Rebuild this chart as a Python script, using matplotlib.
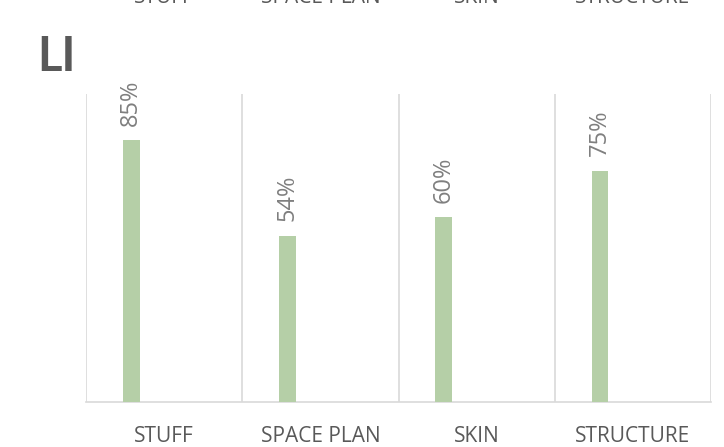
import numpy as np
import matplotlib.pyplot as plt

categories = ['STUFF', 'SPACE PLAN', 'SKIN', 'STRUCTURE']
values = [0.85, 0.54, 0.60, 0.75]
value_labels = ['85%', '54%', '60%', '75%']
title = 'LI'

plt.rcParams['font.family'] = ['Open Sans', 'DejaVu Sans']

fig = plt.figure(figsize=(7.24, 4.47), dpi=100)
ax = fig.add_axes([86/724, 45/447, 625/724, 308/447])

x = np.arange(len(categories))
bar_x = x - 0.21
ax.bar(bar_x, values, width=0.107, color='#b5cfa7', zorder=3)

for bx, v, lab in zip(bar_x, values, value_labels):
    ax.annotate(lab, (bx, v), xytext=(0, 10.5), textcoords='offset points',
                rotation=90, ha='center', va='bottom', fontsize=17, color='#7f7f7f')

ax.set_xlim(-0.5, len(categories) - 0.5)
ax.set_ylim(0, 1)
ax.set_yticks([])
ax.set_xticks(x)
ax.set_xticklabels(categories, fontsize=15, color='#595959')
ax.tick_params(axis='x', length=0, pad=17.5)

for b in np.arange(-0.5, len(categories), 1):
    ax.axvline(b, color='#d9d9d9', lw=1.2, zorder=1)

for s in ['top', 'right', 'left']:
    ax.spines[s].set_visible(False)
ax.spines['bottom'].set_color('#d9d9d9')
ax.spines['bottom'].set_linewidth(1.2)

# labels of the chart above, cut off at the top edge
for xi, c in zip(x, categories):
    xf = (86 + (xi + 0.5) * 625 / 4) / 724
    fig.text(xf, 1 - 3/447, c, ha='center', va='baseline', fontsize=15, color='#595959')

fig.text(37/724, 1 - 71/447, title, ha='left', va='baseline', fontsize=34,
         fontweight='bold', color='#595959', family=['Lato', 'DejaVu Sans'])

fig.savefig('out.png', dpi=100)
